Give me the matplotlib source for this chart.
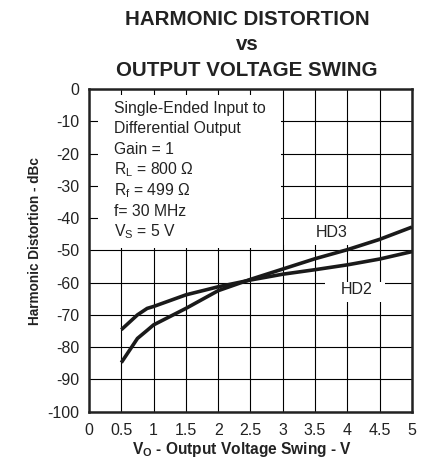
import numpy as np
import matplotlib.pyplot as plt
from matplotlib.patches import Rectangle

plt.rcParams['font.family'] = ['Liberation Sans', 'DejaVu Sans']
plt.rcParams['mathtext.fontset'] = 'custom'
plt.rcParams['mathtext.rm'] = 'Liberation Sans'
plt.rcParams['mathtext.it'] = 'Liberation Sans'
plt.rcParams['axes.unicode_minus'] = False

# Data
vo = [0.5, 0.75, 0.9, 1.0, 1.5, 2.0, 2.5, 3.0, 3.5, 4.0, 4.5, 5.0]
hd2 = [-74.6, -70.0, -68.0, -67.4, -63.8, -61.3, -59.2, -57.4, -56.0, -54.5, -52.7, -50.4]
hd3 = [-84.8, -77.3, -74.8, -73.1, -68.0, -62.5, -59.0, -55.8, -52.6, -49.8, -46.6, -42.8]

xticks = np.arange(0, 5.01, 0.5)
yticks = np.arange(-100, 1, 10)
xticklabels = ['0', '0.5', '1', '1.5', '2', '2.5', '3', '3.5', '4', '4.5', '5']

info_lines = ['Single-Ended Input to', 'Differential Output', 'Gain = 1',
              r'R$_\mathregular{L}$ = 800 Ω', r'R$_\mathregular{f}$ = 499 Ω',
              'f= 30 MHz', r'V$_\mathregular{S}$ = 5 V']

fig = plt.figure(figsize=(4.37, 4.61), dpi=100)
ax = fig.add_axes([0.2037, 0.107, 0.739, 0.700])

ax.set_xlim(0, 5)
ax.set_ylim(-100, 0)
ax.set_xticks(xticks)
ax.set_xticklabels(xticklabels)
ax.set_yticks(yticks)
ax.tick_params(length=0, labelsize=11.5, colors='#222222')
ax.tick_params(axis='x', pad=8)
ax.tick_params(axis='y', pad=7)
ax.set_axisbelow(True)
ax.grid(True, color='black', linewidth=0.8)
for s in ax.spines.values():
    s.set_linewidth(1.8)
    s.set_color('#222222')

# white boxes that hide the grid behind the annotations
ax.add_patch(Rectangle((0.14, -49.3), 2.84, 47.3, facecolor='white', edgecolor='none', zorder=1))
ax.add_patch(Rectangle((3.02, -48.5), 1.43, 8.3, facecolor='white', edgecolor='none', zorder=1))
ax.add_patch(Rectangle((3.66, -65.9), 0.93, 6.1, facecolor='white', edgecolor='none', zorder=1))

ax.plot(vo, hd2, color='#1a1a1a', linewidth=2.6, zorder=3, solid_capstyle='butt')
ax.plot(vo, hd3, color='#1a1a1a', linewidth=2.6, zorder=3, solid_capstyle='butt')

for i, line in enumerate(info_lines):
    ax.text(0.38, -5.9 - 6.4 * i, line, fontsize=11.3, va='center', ha='left',
            color='#222222', zorder=4)

ax.text(3.76, -44.4, 'HD3', fontsize=11.5, ha='center', va='center', color='#222222', zorder=4)
ax.text(4.15, -62.0, 'HD2', fontsize=11.5, ha='center', va='center', color='#222222', zorder=4)

ax.set_xlabel(r'V$_\mathregular{O}$ - Output Voltage Swing - V', fontsize=11.2,
              fontweight='bold', color='#222222')
ax.set_ylabel('Harmonic Distortion - dBc', fontsize=9.8, fontweight='bold',
              color='#222222')
ax.xaxis.set_label_coords(0.474, -0.088)
ax.yaxis.set_label_coords(-0.145, 0.53)

fig.text(0.565, 1 - 25 / 461, 'HARMONIC DISTORTION', fontsize=14.8, fontweight='bold',
         ha='center', va='baseline', color='#222222')
fig.text(0.565, 1 - 50 / 461, 'vs', fontsize=14.8, fontweight='bold',
         ha='center', va='baseline', color='#222222')
fig.text(0.565, 1 - 76 / 461, 'OUTPUT VOLTAGE SWING', fontsize=14.8, fontweight='bold',
         ha='center', va='baseline', color='#222222')

fig.savefig('out.png', dpi=100)
